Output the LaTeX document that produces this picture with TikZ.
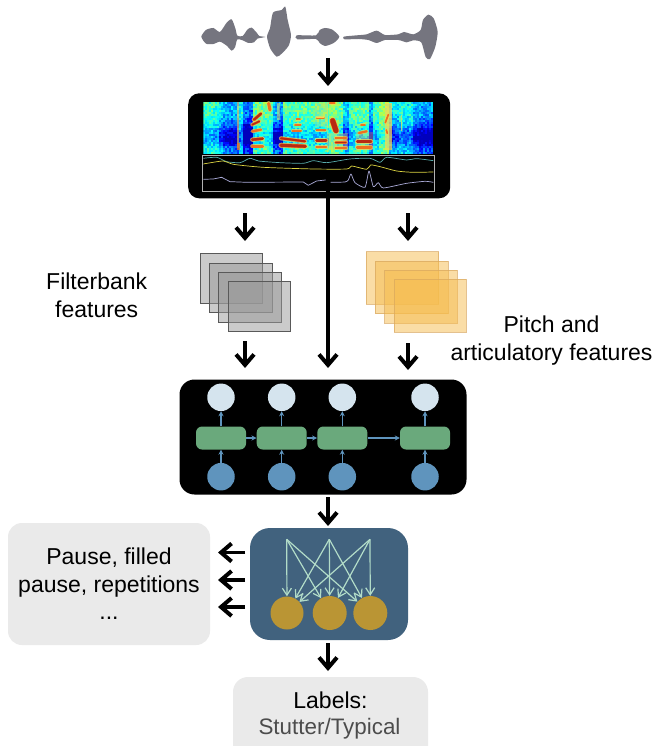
\documentclass[tikz,border=0pt]{standalone}
\usepackage{fontspec}
\setmainfont{Liberation Sans}
\usetikzlibrary{arrows.meta}
\definecolor{wavegray}{HTML}{75757F}
\definecolor{panelblue}{HTML}{41627E}
\definecolor{gold}{HTML}{BA9534}
\definecolor{mint}{HTML}{B2DCC8}
\definecolor{rnngreen}{HTML}{6AA97C}
\definecolor{rnnblue}{HTML}{5F94BD}
\definecolor{rnnpale}{HTML}{D5E4EE}
\definecolor{softgray}{HTML}{EAEAEA}
\definecolor{amber}{HTML}{F6BD4F}
\definecolor{amberline}{HTML}{D9A860}
\definecolor{fmtred}{HTML}{B82A12}
\definecolor{fmtorange}{HTML}{F0701E}
\definecolor{fmtyellow}{HTML}{F8D850}
\tikzset{
  flow/.style={line width=3.6pt,black,-{Straight Barb[length=10.5pt,width=18pt,line width=4pt]}},
  thinflow/.style={line width=1.2pt,rnnblue,-{Stealth[length=5pt,width=5pt]}},
  fcflow/.style={line width=1.2pt,mint,-{Straight Barb[length=7pt,width=9pt,line width=1.2pt]}},
  frameg/.style={draw=black!65,line width=.9pt,fill=black!40,fill opacity=.5},
  frameo/.style={draw=amberline,draw opacity=.7,line width=.9pt,fill=amber,fill opacity=.5},
  pale/.style={circle,minimum size=27.5pt,inner sep=0,fill=rnnpale},
  deep/.style={circle,minimum size=27.5pt,inner sep=0,fill=rnnblue},
  cell/.style={rectangle,rounded corners=6pt,minimum width=50pt,minimum height=23pt,inner sep=0,fill=rnngreen},
  goldc/.style={circle,minimum size=33pt,inner sep=0,fill=gold},
  biglabel/.style={font=\fontsize{23}{27.5}\selectfont,align=center,text=black},
  curve/.style={line width=.7pt,line join=round}
}
\newcommand{\fmt}[5]{%
  \draw[fmtyellow,line width=#5+2.2pt,line cap=round,opacity=.7] #1 -- #2;
  \draw[fmtorange,line width=#5+.8pt,line cap=round] #1 -- #2;
  \draw[#3,line width=#4pt,line cap=round] #1 -- #2;
}
\begin{document}
\begin{tikzpicture}[x=1pt,y=-1pt]
\useasboundingbox (0,0) rectangle (657,746);
\clip (0,0) rectangle (657,746);
\fill[white] (0,0) rectangle (657,746);

% waveform
\begin{scope}[shift={(180,0)},x=.3333pt,y=-.3333pt]
\fill[wavegray] plot[smooth cycle,tension=.4] coordinates {(64,110)(78,90)(100,84)(120,96)(140,68)(155,58)(166,85)(172,107)(188,108)(203,88)(215,83)(230,98)(238,108)(256,111)(232,116)(222,127)(205,129)(188,121)(172,118)(165,142)(155,152)(140,137)(120,125)(100,132)(78,131)};
\fill[wavegray] plot[smooth cycle,tension=.4] coordinates {(261,110)(270,85)(279,38)(305,30)(316,20)(323,60)(333,105)(326,137)(305,161)(290,170)(271,146)};
\fill[wavegray] plot[smooth cycle,tension=.4] coordinates {(350,106)(408,106)(419,90)(435,84)(457,89)(478,110)(461,129)(435,138)(419,129)(408,117)(352,118)};
\fill[wavegray] plot[smooth cycle,tension=.4] coordinates {(491,110)(530,106)(560,103)(590,92)(615,105)(655,103)(672,96)(700,103)(722,90)(729,60)(745,44)(761,55)(773,95)(766,140)(750,177)(737,171)(724,127)(700,121)(680,127)(655,120)(615,120)(590,129)(565,120)(535,117)(494,118)};
\end{scope}
\coordinate (wave) at (328,58);

% spectrogram box
\node[rectangle,rounded corners=11pt,fill=black,minimum width=262pt,minimum height=105pt,inner sep=0] (spec) at (319.2,145.8) {};
\begin{scope}[shift={(180,0)},x=.3333pt,y=-.3333pt]
\pgfmathsetseed{11}
\begin{scope}
\clip (70,305) rectangle (760,460);
\def\cols{{.44,.44,.42,.36,.32,.3,.3,.4,.24,.22,.46,.48,.48,.46,.3,.26,.46,.44,.46,.46,.46,.46,.46,.44,.46,.5,.48,.46,.34,.44,.46,.46,.46,.3,.44,.5,.5,.34,.36,.4,.38,.4,.3,.28,.28,.28}}
\def\rows{{0,0,0,0,0,0,0,-.05,-.1,-.15,-.2,-.3,-.4,-.5,-.6,-.7,-.75,-.8,-.8,-.75,-.65,-.5,-.35,-.25,-.2,-.2}}
\foreach \i in {0,...,114}{
  \foreach \j in {0,...,25}{
    \pgfmathsetmacro\idx{int(\i*6/15)}
    \pgfmathsetmacro\base{\cols[\idx]}
    \pgfmathsetmacro\rowk{\rows[\j]}
    \pgfmathsetmacro\val{max(.06,min(.68,\base+\rowk*(.62-\base)+.16*rnd-.08))}
    \pgfmathsetmacro\rr{max(0,min(1,1.5-abs(4*\val-3)))}
    \pgfmathsetmacro\gg{max(0,min(1,1.5-abs(4*\val-2)))}
    \pgfmathsetmacro\bb{max(0,min(1,1.5-abs(4*\val-1)))}
    \definecolor{jet}{rgb}{\rr,\gg,\bb}
    \fill[jet] ({70+6*\i},{305+\j*6}) rectangle ++(6.4,6.4);
  }
}
% warm vertical strips
\fill[fmtyellow,opacity=.6] (172,305) rectangle (178,445);
\fill[fmtorange,opacity=.75] (172,428) rectangle (181,450);
\fill[fmtyellow,opacity=.4] (440,305) rectangle (444,460);
\fill[fmtyellow,opacity=.75] (616,308) rectangle (636,450);
\fill[fmtyellow,opacity=.7] (662,345) rectangle (667,392);
\fill[fmtyellow,opacity=.5] (290,310) rectangle (300,360);
\fill[fmtyellow,opacity=.3] (405,310) rectangle (445,380);
\fill[fmtyellow,opacity=.35] (445,400) rectangle (505,450);
\fill[fmtyellow,opacity=.35] (528,395) rectangle (578,450);
% formants
\fmt{(217,439)}{(248,439)}{fmtorange}{2.2}{2}
\fmt{(217,419)}{(248,416)}{fmtred}{2.4}{2.2}
\fmt{(217,394)}{(243,389)}{fmtorange}{1.6}{1.6}
\fmt{(217,374)}{(238,364)}{fmtred}{1.6}{1.8}
\fmt{(222,359)}{(243,341)}{fmtred}{2.2}{2.4}
\fmt{(303,415)}{(375,424)}{fmtred}{2}{2}
\fmt{(303,436)}{(376,439)}{fmtred}{3}{3}
\fmt{(337,392)}{(363,392)}{fmtorange}{1.2}{1.2}
\fmt{(345,375)}{(362,375)}{fmtorange}{.8}{.8}
\fmt{(350,358)}{(360,358)}{fmtorange}{1}{1}
\fmt{(266,310)}{(270,330)}{fmtorange}{2}{2.2}
\fmt{(410,441)}{(438,441)}{fmtorange}{2}{2}
\fmt{(410,422)}{(438,422)}{fmtred}{2.4}{2.4}
\fmt{(410,391)}{(436,391)}{fmtorange}{1.2}{1.2}
\fmt{(410,354)}{(432,354)}{fmtyellow}{1}{.8}
\fmt{(458,362)}{(468,392)}{fmtred}{5}{5}
\fmt{(467,414)}{(498,414)}{fmtorange}{1.4}{1.2}
\fmt{(467,427)}{(498,427)}{fmtred}{1.4}{1.6}
\fmt{(467,444)}{(498,444)}{fmtorange}{1.6}{1.4}
\fmt{(532,424)}{(573,424)}{fmtred}{2.4}{2.4}
\fmt{(532,442)}{(573,442)}{fmtorange}{2.2}{2.2}
\fmt{(537,399)}{(560,394)}{fmtorange}{1.4}{1.4}
\fmt{(543,375)}{(555,375)}{fmtorange}{.8}{.8}
\fmt{(450,310)}{(464,310)}{fmtorange}{1.2}{1.2}
\fmt{(625,344)}{(616,368)}{fmtorange}{1}{.8}
\fmt{(619,390)}{(622,400)}{fmtorange}{1}{.8}
\end{scope}
% lower panel
\draw[black!30,line width=.7pt,fill=black] (68,465) rectangle (763,573);
\draw[curve,color=teal!65!white] plot[smooth,tension=.4] coordinates {(70,475)(110,472)(140,485)(180,488)(210,475)(235,483)(300,488)(370,490)(400,482)(440,488)(510,477)(570,475)(600,487)(620,472)(680,480)(710,476)(760,482)};
\draw[curve,color=yellow!70!gray] plot[smooth,tension=.4] coordinates {(70,492)(130,483)(160,493)(250,502)(400,507)(500,507)(515,498)(560,508)(572,495)(600,500)(650,513)(700,517)(760,516)};
\draw[curve,color=blue!25!white!70!gray] (70,538)--(100,537)--(125,532)--(150,545)--(200,547)--(370,546)--(385,556)--(410,543)--(437,540);
\draw[curve,color=blue!25!white!70!gray] plot[smooth,tension=.35] coordinates {(452,547)(495,546)(505,540)(513,522)(525,548)(555,562)(567,513)(580,560)(595,548)(610,564)(680,550)(735,544)(760,547)};
\end{scope}

% feature stacks
\begin{scope}[shift={(180,210)},x=.3333pt,y=-.3333pt]
\foreach \a/\b/\c/\d in {62/131/248/280,88/159/276/308,116/186/303/336,144/213/330/364}
  \path[frameg] (\a,\b) rectangle (\c,\d);
\foreach \a/\b/\c/\d in {558/125/776/283,586/153/804/311,614/181/832/339,642/207/858/366}
  \path[frameo] (\a,\b) rectangle (\c,\d);
\end{scope}
\node[biglabel] (fbank) at (96.7,295.5) {Filterbank\\features};
\node[biglabel] (pitch) at (551.5,340.5) {Pitch and\\articulatory features};

% RNN panel
\node[rectangle,rounded corners=15pt,fill=black,minimum width=287pt,minimum height=115pt,inner sep=0] (rnn) at (323,437) {};
\foreach \n/\x/\cx in {1/221/221,2/281.7/281.7,3/342.3/342.3,4/425/425}{
  \node[pale] (o\n) at (\x,397.3) {};
  \node[cell] (r\n) at (\cx,438) {};
  \node[deep] (i\n) at (\x,476.7) {};
  \draw[thinflow] (i\n) -- (r\n);
  \draw[thinflow] (r\n) -- (o\n);
}
\draw[thinflow] (r1) -- (r2);
\draw[thinflow] (r2) -- (r3);
\draw[thinflow] (r3) -- (r4);

% classifier panel
\node[rectangle,rounded corners=20pt,fill=panelblue,minimum width=158pt,minimum height=112pt,inner sep=0] (fc) at (329,584) {};
\node[goldc] (c1) at (287,613) {};
\node[goldc,minimum size=34pt] (c2) at (329.7,613) {};
\node[goldc,minimum size=34pt] (c3) at (370.3,613) {};
\coordinate (t1) at (286.7,539.3);
\coordinate (t2) at (329.3,539.3);
\coordinate (t3) at (370,539.3);
\foreach \s in {1,2,3}{\foreach \e in {1,2,3}{\draw[fcflow] (t\s) -- (c\e);}}

% text boxes
\node[rectangle,rounded corners=14pt,fill=softgray,minimum width=202pt,minimum height=122pt,inner sep=0,biglabel] (events) at (109,584) {Pause, filled\\pause, repetitions\\...};
\node[rectangle,rounded corners=15pt,fill=softgray,minimum width=195pt,minimum height=90pt,inner sep=0] (lab) at (330.5,722) {};
\node[biglabel] (labt) at (330.5,700) {Labels:};
\node[biglabel,text=black!70,font=\fontsize{22.4}{27.5}\selectfont] (labs) at (329.5,729) {Stutter/Typical};

% flow arrows
\coordinate (a1) at (245,213); \coordinate (a1e) at (245,241);
\coordinate (a2) at (408,213); \coordinate (a2e) at (408,241);
\coordinate (b1) at (245,341); \coordinate (b1e) at (245,368);
\coordinate (b2) at (408,343); \coordinate (b2e) at (408,370);
\coordinate (mid) at (328,178); \coordinate (mide) at (328,368);
\coordinate (spectop) at (328,86);
\coordinate (rnnin) at (328,497); \coordinate (fcin) at (328,526);
\coordinate (fcout) at (328,643); \coordinate (labin) at (328,671);
\coordinate (l1) at (245,552.5); \coordinate (l1e) at (218,552.5);
\coordinate (l2) at (245,580); \coordinate (l2e) at (218,580);
\coordinate (l3) at (245,607); \coordinate (l3e) at (218,607);
\draw[flow] (wave) -- (spectop);
\draw[flow] (a1) -- (a1e);
\draw[flow] (a2) -- (a2e);
\draw[flow] (b1) -- (b1e);
\draw[flow] (b2) -- (b2e);
\draw[flow] (mid) -- (mide);
\draw[flow] (rnnin) -- (fcin);
\draw[flow] (fcout) -- (labin);
\draw[flow] (l1) -- (l1e);
\draw[flow] (l2) -- (l2e);
\draw[flow] (l3) -- (l3e);
\end{tikzpicture}
\end{document}
